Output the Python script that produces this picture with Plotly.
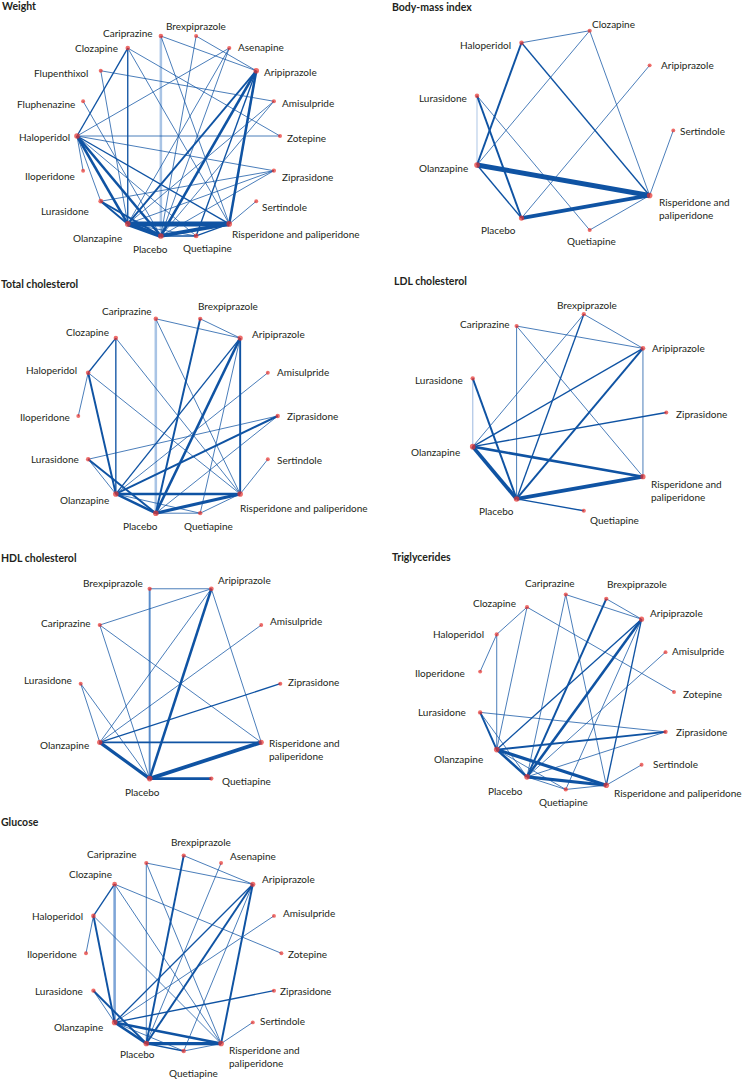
import math
import plotly.graph_objects as go

# ---------------- data ----------------
NAMES = {
    "Ami": "Amisulpride", "Ari": "Aripiprazole", "Ase": "Asenapine", "Bre": "Brexpiprazole",
    "Car": "Cariprazine", "Clo": "Clozapine", "Flx": "Flupenthixol", "Flu": "Fluphenazine",
    "Hal": "Haloperidol", "Ilo": "Iloperidone", "Lur": "Lurasidone", "Ola": "Olanzapine",
    "Pla": "Placebo", "Que": "Quetiapine", "Ris": "Risperidone and paliperidone",
    "Ser": "Sertindole", "Zip": "Ziprasidone", "Zot": "Zotepine",
}

weight_nodes = ["Ami", "Ari", "Ase", "Bre", "Car", "Clo", "Flx", "Flu", "Hal", "Ilo",
                "Lur", "Ola", "Pla", "Que", "Ris", "Ser", "Zip", "Zot"]
weight_edges = [
    ("Car", "Ari", 1), ("Car", "Ris", 1), ("Bre", "Ari", 1), ("Bre", "Pla", 1),
    ("Clo", "Ola", 2), ("Clo", "Hal", 2), ("Clo", "Ris", 1), ("Clo", "Zot", 1),
    ("Ase", "Hal", 1), ("Ase", "Ola", 1), ("Ase", "Pla", 1), ("Flx", "Ami", 1),
    ("Flx", "Ola", 1), ("Flu", "Pla", 1), ("Hal", "Zot", 1), ("Hal", "Ilo", 1),
    ("Hal", "Lur", 1), ("Hal", "Ola", 4), ("Hal", "Pla", 4), ("Hal", "Que", 1),
    ("Hal", "Ris", 2), ("Hal", "Zip", 1), ("Ari", "Ola", 3), ("Ari", "Pla", 4),
    ("Ari", "Ris", 4), ("Ari", "Que", 2), ("Ami", "Ola", 1), ("Ami", "Pla", 1),
    ("Zip", "Lur", 1), ("Zip", "Ola", 1), ("Zip", "Pla", 1), ("Ser", "Ris", 1),
    ("Lur", "Ola", 3), ("Lur", "Pla", 3), ("Ola", "Ris", 8), ("Ola", "Pla", 7),
    ("Ola", "Que", 1), ("Pla", "Ris", 6), ("Pla", "Que", 2), ("Que", "Ris", 2),
]
weight_light = [("Car", "Pla", 4)]

bmi_nodes = ["Ari", "Clo", "Hal", "Lur", "Ola", "Pla", "Que", "Ris", "Ser"]
bmi_edges = [
    ("Hal", "Clo", 1), ("Clo", "Ola", 1), ("Clo", "Ris", 1), ("Hal", "Ola", 3),
    ("Hal", "Ris", 2), ("Ari", "Pla", 1), ("Lur", "Pla", 3), ("Lur", "Que", 1),
    ("Ser", "Ris", 1), ("Ola", "Pla", 2), ("Ola", "Ris", 8), ("Pla", "Ris", 6),
    ("Ris", "Que", 1),
]
bmi_light = [("Lur", "Ola", 2)]

tc_nodes = ["Ami", "Ari", "Bre", "Car", "Clo", "Hal", "Ilo", "Lur", "Ola", "Pla",
            "Que", "Ris", "Ser", "Zip"]
tc_edges = [
    ("Car", "Ari", 1), ("Car", "Ris", 1), ("Bre", "Ari", 1), ("Bre", "Pla", 3),
    ("Clo", "Hal", 2), ("Clo", "Ola", 2), ("Clo", "Ris", 1), ("Hal", "Ilo", 1),
    ("Hal", "Ola", 3), ("Hal", "Ris", 1), ("Ari", "Ola", 2), ("Ari", "Pla", 4),
    ("Ari", "Ris", 3), ("Ari", "Que", 1), ("Ami", "Ola", 1), ("Zip", "Ola", 3),
    ("Zip", "Lur", 1), ("Zip", "Pla", 1), ("Ser", "Ris", 1), ("Lur", "Ola", 1),
    ("Lur", "Pla", 3), ("Ola", "Ris", 4), ("Ola", "Pla", 4), ("Ola", "Que", 1),
    ("Pla", "Ris", 5), ("Pla", "Que", 1), ("Que", "Ris", 1),
]
tc_light = [("Car", "Pla", 4)]

ldl_nodes = ["Ari", "Bre", "Car", "Lur", "Ola", "Pla", "Que", "Ris", "Zip"]
ldl_edges = [
    ("Car", "Ari", 1), ("Bre", "Ari", 1), ("Bre", "Ola", 1), ("Bre", "Pla", 2),
    ("Car", "Pla", 1), ("Car", "Ris", 1), ("Ari", "Ola", 2), ("Ari", "Pla", 3),
    ("Ari", "Ris", 1), ("Lur", "Pla", 3), ("Zip", "Ola", 2), ("Ola", "Ris", 4),
    ("Ola", "Pla", 6), ("Pla", "Ris", 6), ("Pla", "Que", 2),
]
ldl_light = [("Lur", "Ola", 2)]

hdl_nodes = ["Ami", "Ari", "Bre", "Car", "Lur", "Ola", "Pla", "Que", "Ris", "Zip"]
hdl_edges = [
    ("Bre", "Ari", 1), ("Car", "Ari", 1), ("Car", "Pla", 1), ("Car", "Ris", 1),
    ("Ari", "Ola", 1), ("Ari", "Pla", 4), ("Ari", "Ris", 1), ("Ami", "Ola", 1),
    ("Lur", "Ola", 1), ("Lur", "Pla", 1), ("Zip", "Ola", 2), ("Ola", "Ris", 3),
    ("Ola", "Pla", 5), ("Pla", "Ris", 6), ("Pla", "Que", 4),
]
hdl_light = [("Bre", "Pla", 3)]

tg_nodes = ["Ami", "Ari", "Bre", "Car", "Clo", "Hal", "Ilo", "Lur", "Ola", "Pla",
            "Que", "Ris", "Ser", "Zip", "Zot"]
tg_edges = [
    ("Car", "Ari", 1), ("Bre", "Ari", 1), ("Car", "Pla", 1), ("Car", "Ris", 1),
    ("Bre", "Pla", 3), ("Clo", "Hal", 1), ("Clo", "Ola", 1), ("Clo", "Zot", 1),
    ("Hal", "Ilo", 1), ("Hal", "Ola", 1), ("Ari", "Ola", 2), ("Ari", "Pla", 4),
    ("Ari", "Ris", 2), ("Ari", "Que", 1), ("Ami", "Pla", 1), ("Lur", "Zip", 1),
    ("Lur", "Ola", 3), ("Lur", "Pla", 1), ("Zip", "Ola", 3), ("Zip", "Pla", 1),
    ("Ser", "Ris", 1), ("Ola", "Pla", 4), ("Ola", "Ris", 5), ("Pla", "Ris", 5),
    ("Ola", "Que", 1), ("Pla", "Que", 1), ("Que", "Ris", 1),
]
tg_light = []

glu_nodes = ["Ami", "Ari", "Ase", "Bre", "Car", "Clo", "Hal", "Ilo", "Lur", "Ola",
             "Pla", "Que", "Ris", "Ser", "Zip", "Zot"]
glu_edges = [
    ("Bre", "Ari", 1), ("Bre", "Pla", 3), ("Car", "Ari", 1), ("Car", "Pla", 1),
    ("Car", "Ris", 1), ("Ase", "Pla", 1), ("Clo", "Hal", 2), ("Clo", "Zot", 1),
    ("Clo", "Ris", 1), ("Hal", "Ilo", 1), ("Hal", "Ola", 3), ("Hal", "Ris", 1),
    ("Ari", "Ola", 2), ("Ari", "Pla", 3), ("Ari", "Ris", 3), ("Ari", "Que", 1),
    ("Ami", "Ola", 1), ("Zip", "Ola", 2), ("Ser", "Ris", 1), ("Lur", "Ola", 1),
    ("Lur", "Pla", 3), ("Ola", "Pla", 4), ("Ola", "Ris", 4), ("Pla", "Ris", 5),
    ("Ola", "Que", 1), ("Pla", "Que", 2), ("Que", "Ris", 1),
]
glu_light = [("Clo", "Ola", 4)]

# ---------------- layout of panels (positions / styling) ----------------
PANELS = [
    dict(title="Weight", tpos=(1, 6), c=(178.5, 136), r=101.5, nodes=weight_nodes,
         edges=weight_edges, light=weight_light, light_col="#a9c4e5", two_line=False,
         lab={"Car": ("right", -7, -3), "Bre": ("center", 0, -10), "Clo": ("right", -9, 0),
              "Ase": ("left", 8, -1), "Flx": ("right", -12, 2), "Ari": ("left", 7, 1),
              "Flu": ("right", -7, 3), "Ami": ("left", 7, 2), "Hal": ("right", -6, 1),
              "Zot": ("left", 6, 2), "Ilo": ("right", -7, 5), "Zip": ("left", 7, 6),
              "Lur": ("right", -11, 10), "Ser": ("left", 5, 6), "Ola": ("right", -5, 14),
              "Ris": ("left", 2, 10), "Pla": ("center", -10, 13), "Que": ("center", 11, 12)}),
    dict(title="Body-mass index", tpos=(391, 7), c=(572.1, 130.4), r=101.2, nodes=bmi_nodes,
         edges=bmi_edges, light=bmi_light, light_col="#c3d5ec", two_line=True,
         lab={"Clo": ("left", 1, -7), "Hal": ("right", -10, 2), "Ari": ("left", 10, 0),
              "Lur": ("right", -9, 2), "Ser": ("left", 6, 1), "Ola": ("right", -8, 3),
              "Ris": ("left", 8, 13), "Pla": ("right", -5, 12), "Que": ("center", 2, 11)}),
    dict(title="Total cholesterol", tpos=(0, 284), c=(178, 416), r=99.7, nodes=tc_nodes,
         edges=tc_edges, light=tc_light, light_col="#a9c4e5", two_line=False,
         lab={"Car": ("right", -3, -8), "Bre": ("left", -3, -13), "Clo": ("right", -6, -6),
              "Ari": ("left", 11, -4), "Hal": ("right", -10, -3), "Ami": ("left", 8, -1),
              "Ilo": ("right", -7, 1), "Zip": ("left", 8, 0), "Lur": ("right", -8, 0),
              "Ser": ("left", 8, 1), "Ola": ("right", -6, 6), "Pla": ("center", -15, 13),
              "Que": ("center", 8, 13), "Ris": ("left", -1, 14)}),
    dict(title="LDL cholesterol", tpos=(393, 281), c=(566.5, 412.5), r=99.8, nodes=ldl_nodes,
         edges=ldl_edges, light=ldl_light, light_col="#b6cbe8", two_line=True,
         lab={"Bre": ("center", 3, -9), "Car": ("right", -6, -2), "Ari": ("left", 8, 0),
              "Lur": ("right", -9, 2), "Zip": ("left", 9, 1), "Ola": ("right", -12, 5),
              "Pla": ("center", -20, 12), "Que": ("left", 5, 9), "Ris": ("left", 7, 14)}),
    dict(title="HDL cholesterol", tpos=(0, 558), c=(180.5, 683.7), r=99.8, nodes=hdl_nodes,
         edges=hdl_edges, light=hdl_light, light_col="#5a8dcb", two_line=True,
         lab={"Bre": ("right", -6, -6), "Ari": ("left", 6, -9), "Car": ("right", -8, -2),
              "Ami": ("left", 8, -4), "Lur": ("right", -8, -4), "Zip": ("left", 7, -2),
              "Ola": ("right", -10, 3), "Pla": ("center", -7, 13), "Que": ("left", 10, 2),
              "Ris": ("left", 7, 7)}),
    dict(title="Triglycerides", tpos=(391, 557), c=(576, 692), r=98, nodes=tg_nodes,
         edges=tg_edges, light=tg_light, light_col="#a9c4e5", two_line=False,
         lab={"Car": ("center", -16, -12), "Bre": ("left", 0, -15), "Clo": ("right", -10, -4),
              "Ari": ("left", 7, -6), "Hal": ("right", -12, 0), "Ami": ("left", 5, -1),
              "Ilo": ("right", -14, 1), "Zot": ("left", 8, 2), "Lur": ("right", -13, 0),
              "Zip": ("left", 9, 0), "Ola": ("right", -13, 9), "Ser": ("left", 10, -1),
              "Pla": ("right", -3, 14), "Que": ("center", -2, 13), "Ris": ("left", 7, 8)}),
    dict(title="Glucose", tpos=(0, 822), c=(183.7, 953.3), r=97.7, nodes=glu_nodes,
         edges=glu_edges, light=glu_light, light_col="#7ea5d7", two_line=True,
         lab={"Bre": ("center", 17, -14), "Car": ("right", -8, -9), "Ase": ("left", 8, -7),
              "Clo": ("right", -2, -10), "Ari": ("left", 8, -5), "Hal": ("right", -9, 0),
              "Ami": ("left", 8, -3), "Ilo": ("right", -8, 1), "Zot": ("left", 6, 1),
              "Lur": ("right", -9, 0), "Zip": ("left", 5, 0), "Ola": ("right", -11, 5),
              "Ser": ("left", 6, -1), "Pla": ("center", -9, 10), "Ris": ("left", 7, 13),
              "Que": ("center", 10, 22)}),
]

DARK = "#0f53a3"
NODE = "#e8312b"
FONT = "Lato"
TXT = "#231f20"


def width_of(n):
    return min(0.15 + 0.6 * n, 5.0)


fig = go.Figure()
annotations = []

for p in PANELS:
    cx, cy = p["c"]
    r = p["r"]
    n = len(p["nodes"])
    pos = {}
    for k, code in enumerate(p["nodes"]):
        ang = math.radians((k + 1) * 360.0 / n)
        pos[code] = (cx + r * math.cos(ang), cy - r * math.sin(ang))

    for a, b, w in p["light"]:
        fig.add_trace(go.Scatter(x=[pos[a][0], pos[b][0]], y=[pos[a][1], pos[b][1]],
                                 mode="lines", line=dict(color=p["light_col"], width=width_of(w)),
                                 hoverinfo="skip", showlegend=False))
    for a, b, w in sorted(p["edges"], key=lambda e: e[2]):
        fig.add_trace(go.Scatter(x=[pos[a][0], pos[b][0]], y=[pos[a][1], pos[b][1]],
                                 mode="lines", line=dict(color=DARK, width=width_of(w)),
                                 hoverinfo="skip", showlegend=False))

    deg = {c: 0 for c in p["nodes"]}
    for a, b, w in p["edges"] + p["light"]:
        deg[a] += w
        deg[b] += w
    sizes = [min(3.8 + 0.12 * deg[c], 5.6) for c in p["nodes"]]
    fig.add_trace(go.Scatter(x=[pos[c][0] for c in p["nodes"]],
                             y=[pos[c][1] for c in p["nodes"]],
                             mode="markers", marker=dict(color=NODE, size=sizes, line=dict(width=0)),
                             hoverinfo="skip", showlegend=False))

    for code in p["nodes"]:
        xa, dx, dy = p["lab"][code]
        text = NAMES[code]
        if code == "Ris" and p["two_line"]:
            text = "Risperidone and<br>paliperidone"
        annotations.append(dict(x=pos[code][0] + dx, y=pos[code][1] + dy, text=text,
                                xanchor=xa, yanchor="middle", showarrow=False,
                                align="left", borderpad=0,
                                font=dict(family=FONT, size=10, color=TXT)))

    annotations.append(dict(x=p["tpos"][0], y=p["tpos"][1], text="<b>" + p["title"] + "</b>",
                            xanchor="left", yanchor="middle", showarrow=False, borderpad=0,
                            font=dict(family=FONT, size=10.5, color=TXT)))

fig.update_layout(
    width=742, height=1080,
    margin=dict(l=0, r=0, t=0, b=0),
    paper_bgcolor="white", plot_bgcolor="white",
    xaxis=dict(range=[0, 742], visible=False, fixedrange=True),
    yaxis=dict(range=[1080, 0], visible=False, fixedrange=True),
    annotations=annotations,
    showlegend=False,
    hovermode=False,
)

fig.write_html("out.html", config={"displayModeBar": False, "staticPlot": True},
               post_script="document.body.style.margin='0px';document.body.style.overflow='hidden';")
